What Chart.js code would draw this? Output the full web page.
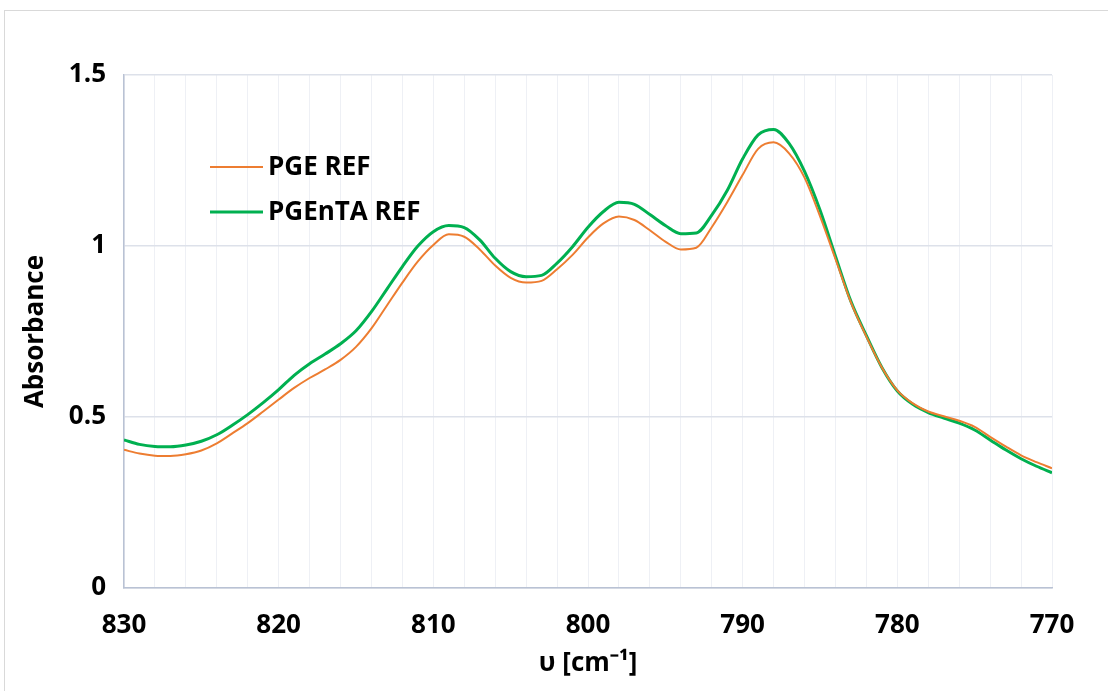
<!DOCTYPE html>
<html lang="en">
<head>
<meta charset="utf-8">
<title>Absorbance</title>
<script src="https://cdn.jsdelivr.net/npm/chart.js@4.4.1/dist/chart.umd.min.js"></script>
<style>
    html, body { margin: 0; padding: 0; background: #fff; overflow: hidden; }
    #wrap { position: relative; width: 1108px; height: 691px; }
    #frame {
        position: absolute; left: 4px; top: 10px; width: 1200px; height: 800px;
        border: 1px solid #d9d9d9; box-sizing: border-box;
    }
    #chartAbs { position: absolute; left: 0; top: 0; }
</style>
</head>
<body>
<div id="wrap">
    <div id="frame"></div>
    <canvas id="chartAbs" width="1108" height="691"></canvas>
</div>
<script>
// Wavenumber axis (cm-1), read from high to low
const wavenumbers = [
    830, 829, 828, 827, 826, 825, 824, 823, 822, 821,
    820, 819, 818, 817, 816, 815, 814, 813, 812, 811,
    810, 809, 808, 807, 806, 805, 804, 803, 802, 801,
    800, 799, 798, 797, 796, 795, 794, 793, 792, 791,
    790, 789, 788, 787, 786, 785, 784, 783, 782, 781,
    780, 779, 778, 777, 776, 775, 774, 773, 772, 771,
    770
];

const pgeRef = [
    0.404, 0.393, 0.387, 0.386, 0.391, 0.402, 0.423, 0.452, 0.482, 0.516,
    0.551, 0.585, 0.614, 0.639, 0.667, 0.705, 0.759, 0.826, 0.893, 0.955,
    1.003, 1.034, 1.027, 0.990, 0.943, 0.907, 0.893, 0.898, 0.932, 0.974,
    1.025, 1.066, 1.086, 1.076, 1.046, 1.013, 0.990, 0.995, 1.055, 1.128,
    1.208, 1.284, 1.303, 1.271, 1.200, 1.087, 0.962, 0.835, 0.735, 0.645,
    0.578, 0.540, 0.516, 0.502, 0.489, 0.471, 0.442, 0.414, 0.388, 0.368,
    0.350
];

const pgentaRef = [
    0.433, 0.420, 0.414, 0.413, 0.418, 0.429, 0.448, 0.476, 0.507, 0.542,
    0.580, 0.622, 0.656, 0.684, 0.714, 0.752, 0.808, 0.874, 0.940, 1.000,
    1.042, 1.060, 1.054, 1.018, 0.964, 0.925, 0.910, 0.914, 0.950, 0.998,
    1.055, 1.101, 1.128, 1.122, 1.092, 1.060, 1.036, 1.038, 1.090, 1.162,
    1.255, 1.325, 1.341, 1.300, 1.218, 1.105, 0.970, 0.838, 0.738, 0.645,
    0.576, 0.537, 0.513, 0.497, 0.482, 0.462, 0.433, 0.404, 0.378, 0.356,
    0.337
];

const seriesNames = ['PGE REF', 'PGEnTA REF'];
const xTickLabels = [830, 820, 810, 800, 790, 780, 770];
const yTickLabels = [0, 0.5, 1, 1.5];

(function() {
    'use strict';

    const FONT = '"Open Sans", "Liberation Sans", sans-serif';

    function toPoints(values) {
        return wavenumbers.map((w, i) => ({ x: w, y: values[i] }));
    }

    // legend drawn inside the plot, upper left
    const innerLegend = {
        id: 'innerLegend',
        afterDatasetsDraw(chart) {
            const { ctx, chartArea } = chart;
            const x0 = chartArea.left + 86;
            let y = chartArea.top + 92;
            ctx.save();
            ctx.font = 'bold 26px ' + FONT;
            ctx.textBaseline = 'middle';
            ctx.fillStyle = '#000';
            chart.data.datasets.forEach(ds => {
                ctx.strokeStyle = ds.borderColor;
                ctx.lineWidth = ds.borderWidth;
                ctx.beginPath();
                ctx.moveTo(x0, y);
                ctx.lineTo(x0 + 53, y);
                ctx.stroke();
                ctx.fillText(ds.label, x0 + 58, y + 1);
                y += 45;
            });
            ctx.restore();
        }
    };

    const ctx = document.getElementById('chartAbs').getContext('2d');
    new Chart(ctx, {
        type: 'line',
        data: {
            datasets: [
                {
                    label: seriesNames[0],
                    data: toPoints(pgeRef),
                    borderColor: '#ED7D31',
                    borderWidth: 2,
                    pointRadius: 0,
                    cubicInterpolationMode: 'monotone'
                },
                {
                    label: seriesNames[1],
                    data: toPoints(pgentaRef),
                    borderColor: '#00B050',
                    borderWidth: 3,
                    pointRadius: 0,
                    cubicInterpolationMode: 'monotone'
                }
            ]
        },
        options: {
            responsive: false,
            animation: false,
            events: [],
            layout: { padding: { left: 0, top: 75, right: 56, bottom: 0 } },
            plugins: {
                legend: { display: false },
                tooltip: { enabled: false }
            },
            scales: {
                x: {
                    type: 'linear',
                    reverse: true,
                    min: 770,
                    max: 830,
                    afterFit: (scale) => { scale.height = 103; },
                    ticks: {
                        // minor grid every 2 cm-1, labels only on the tens
                        stepSize: 2,
                        autoSkip: false,
                        maxRotation: 0,
                        padding: 22,
                        color: '#000',
                        font: { family: FONT, size: 26, weight: 'bold' },
                        callback: (v) => xTickLabels.includes(v) ? String(v) : ''
                    },
                    grid: { color: '#eef0f5', lineWidth: 1, drawTicks: false },
                    border: { color: '#b9c2d4', width: 1.5 },
                    title: {
                        display: true,
                        text: 'υ [cm⁻¹]',
                        color: '#000',
                        font: { family: FONT, size: 26, weight: 'bold' },
                        padding: { top: 0, bottom: 12 }
                    }
                },
                y: {
                    min: 0,
                    max: 1.5,
                    afterFit: (scale) => { scale.width = 124; },
                    afterBuildTicks: (scale) => {
                        scale.ticks = yTickLabels.map(v => ({ value: v }));
                    },
                    ticks: {
                        padding: 18,
                        color: '#000',
                        font: { family: FONT, size: 26, weight: 'bold' },
                        callback: (v) => String(v)
                    },
                    grid: { color: '#dde1ea', lineWidth: 1.5, drawTicks: false },
                    border: { color: '#b9c2d4', width: 1.5 },
                    title: {
                        display: true,
                        text: 'Absorbance',
                        color: '#000',
                        font: { family: FONT, size: 26, weight: 'bold' },
                        padding: { top: 20, bottom: 0 }
                    }
                }
            }
        },
        plugins: [innerLegend]
    });
})();
</script>
</body>
</html>
